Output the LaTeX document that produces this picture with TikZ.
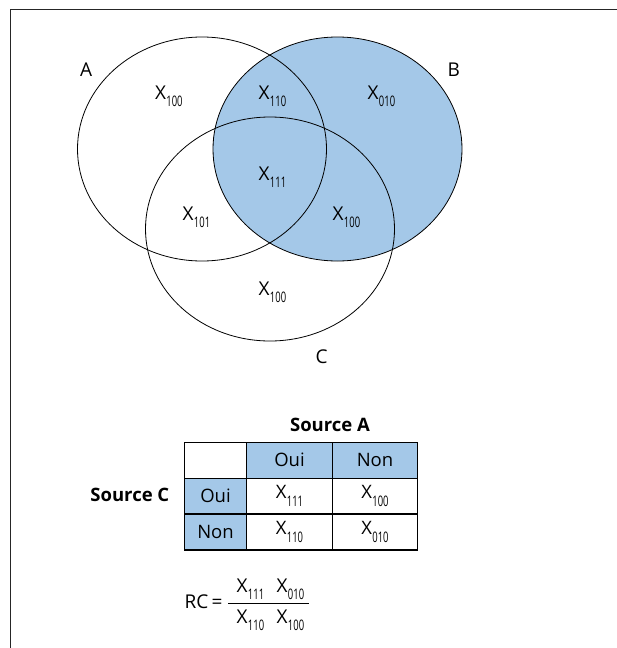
\documentclass[tikz,border=0pt]{standalone}
\usepackage{fontspec}
\setmainfont{Open Sans}
\newfontfamily\subfont{Open Sans}[FakeStretch=0.65]
\usetikzlibrary{shapes.geometric}

\definecolor{vennblue}{RGB}{164,200,232}
\newcommand{\Xs}[1]{X\kern0.3pt\raisebox{-7.5pt}{\subfont\fontsize{14.5}{14.5}\selectfont #1}}

\tikzset{
  set/.style={ellipse, draw, line width=0.8pt, minimum width=249, minimum height=224, inner sep=0},
  lab/.style={anchor=base west, inner sep=0, font=\fontsize{19}{19}\selectfont},
  cell/.style={draw, line width=1.2pt, minimum width=#1, minimum height=36, inner sep=0, font=\fontsize{18.5}{18.5}\selectfont},
  head/.style={fill=vennblue}
}

\begin{document}
\begin{tikzpicture}[x=1pt, y=-1pt]
\useasboundingbox (0,0) rectangle (617,648);
\draw[line width=1.6pt, black!85] (617,9.5) -- (10.5,9.5) -- (10.5,648);

% sets
\node[set, fill=vennblue] (B) at (337.5,149) {};
\node[set] (A) at (202,149) {};
\node[set] (C) at (270,229) {};

% set labels
\node[lab] (la) at (80,76.5) {A};
\node[lab] (lb) at (447.5,76.5) {B};
\node[lab] (lc) at (315.5,363) {C};

% regions
\node[lab] (r100) at (155,99) {\Xs{100}};
\node[lab] (r110) at (258.5,99) {\Xs{110}};
\node[lab] (r010) at (367.5,99) {\Xs{010}};
\node[lab] (r111) at (258.5,180) {\Xs{111}};
\node[lab] (r101) at (182.5,220) {\Xs{101}};
\node[lab] (r100b) at (332.5,220) {\Xs{100}};
\node[lab] (r100c) at (258.5,295) {\Xs{100}};

% table
\node[cell=62.4] (t00) at (215.5,460.2) {};
\node[cell=85.6, head] (t01) at (289.5,460.2) {Oui};
\node[cell=85.4, head] (t02) at (375,460.2) {Non};
\node[cell=62.4, head] (t10) at (215.5,496.1) {Oui};
\node[cell=85.6] (t11) at (289.5,496.1) {\Xs{111}};
\node[cell=85.4] (t12) at (375,496.1) {\Xs{100}};
\node[cell=62.4, head] (t20) at (215.5,532) {Non};
\node[cell=85.6] (t21) at (289.5,532) {\Xs{110}};
\node[cell=85.4] (t22) at (375,532) {\Xs{010}};
\node[anchor=base, inner sep=0, font=\fontsize{18.5}{18.5}\selectfont\bfseries] (srcA) at (330,431.5) {Source A};
\node[anchor=base east, inner sep=0, font=\fontsize{18.5}{18.5}\selectfont\bfseries] (srcC) at (169.5,501.5) {Source C};

% ratio
\node[lab] (rc) at (184.5,608.5) {RC\,=};
\node[lab] (n1) at (236.5,592) {\Xs{111}};
\node[lab] (n2) at (276.5,592) {\Xs{010}};
\node[lab] (d1) at (236.5,623) {\Xs{110}};
\node[lab] (d2) at (276.5,623) {\Xs{100}};
\coordinate (f1) at (228,603.3);
\coordinate (f2) at (309,603.3);
\draw[line width=0.8pt] (f1) -- (f2);
\end{tikzpicture}
\end{document}
